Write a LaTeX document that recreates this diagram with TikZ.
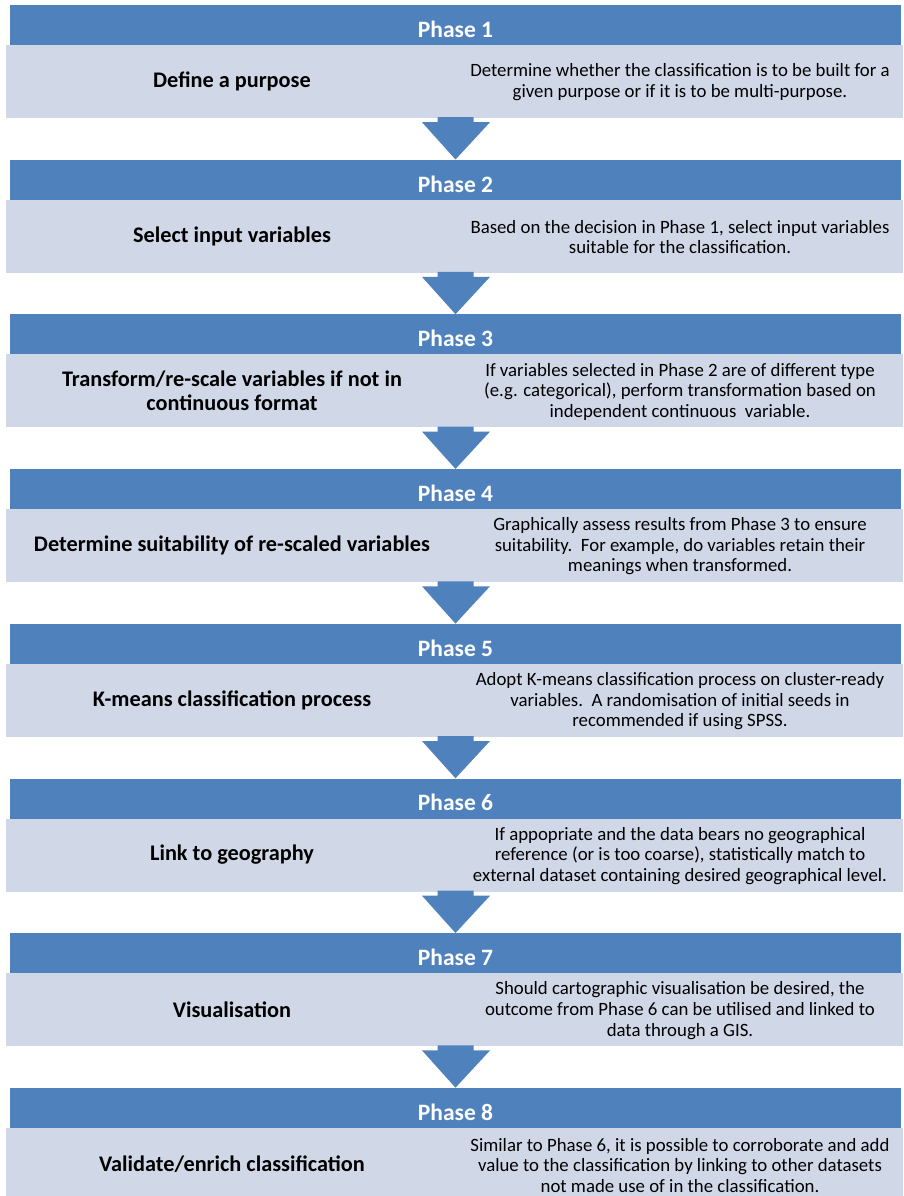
\documentclass[tikz,border=0pt]{standalone}
\usepackage{fontspec}
\setmainfont{Carlito}
\usetikzlibrary{calc}
\definecolor{hdr}{HTML}{4F81BD}
\definecolor{bdy}{HTML}{D0D8E8}
\newcommand\myphase[3]{%
  \pgfmathsetmacro\off{154.7*(#1-1)}%
  \node[hdrbox] (h#1) at (455.5,{25+\off}) {};
  \node[hdrtext] (p#1) at (455.5,{29.3+\off}) {Phase #1};
  \node[bodybox] (b#1) at (454.5,{81.5+\off}) {};
  \node[titletext] (t#1) at (232,{81.5+\off}) {#2};
  \node[desctext] (d#1) at (680,{82.3+\off}) {#3};
}
\newcommand\myarrow[2]{%
  \fill[hdr] ($(b#1.south)+(-17,-1)$) -- ($(b#1.south)+(19,-1)$) -- ($(b#1.south)+(19,4)$)
    -- ($(b#1.south)+(35.5,4)$) -- (h#2.north) -- ($(b#1.south)+(-32.5,4)$)
    -- ($(b#1.south)+(-17,4)$) -- cycle;
}
\begin{document}
\begin{tikzpicture}[x=1pt,y=-1pt,
  hdrbox/.style={rectangle, fill=hdr, draw=none, minimum width=891pt, minimum height=40pt, inner sep=0pt},
  hdrtext/.style={inner sep=0pt, text=white, font=\fontsize{23.5}{26}\selectfont\bfseries},
  bodybox/.style={rectangle, fill=bdy, draw=none, minimum width=897pt, minimum height=73pt, inner sep=0pt},
  titletext/.style={align=center, inner sep=0pt, font=\fontsize{22.3}{24}\selectfont\bfseries},
  desctext/.style={align=center, inner sep=0pt, font=\fontsize{18.8}{20.6}\selectfont}]
\useasboundingbox (0,0) rectangle (903,1196);
\myphase{1}{Define a purpose}{Determine whether the classification is to be built for a\\given purpose or if it is to be multi-purpose.}
\myphase{2}{Select input variables}{Based on the decision in Phase 1, select input variables\\suitable for the classification.}
\myphase{3}{Transform/re-scale variables if not in\\continuous format}{If variables selected in Phase 2 are of different type\\(e.g. categorical), perform transformation based on\\independent continuous\ \ variable.}
\myphase{4}{Determine suitability of re-scaled variables}{Graphically assess results from Phase 3 to ensure\\suitability.\ \ For example, do variables retain their\\meanings when transformed.}
\myphase{5}{K-means classification process}{Adopt K-means classification process on cluster-ready\\variables.\ \ A randomisation of initial seeds in\\recommended if using SPSS.}
\myphase{6}{Link to geography}{If appopriate and the data bears no geographical\\reference (or is too coarse), statistically match to\\external dataset containing desired geographical level.}
\myphase{7}{Visualisation}{Should cartographic visualisation be desired, the\\outcome from Phase 6 can be utilised and linked to\\data through a GIS.}
\myphase{8}{Validate/enrich classification}{Similar to Phase 6, it is possible to corroborate and add\\value to the classification by linking to other datasets\\not made use of in the classification.}
\myarrow{1}{2}
\myarrow{2}{3}
\myarrow{3}{4}
\myarrow{4}{5}
\myarrow{5}{6}
\myarrow{6}{7}
\myarrow{7}{8}
\end{tikzpicture}
\end{document}
